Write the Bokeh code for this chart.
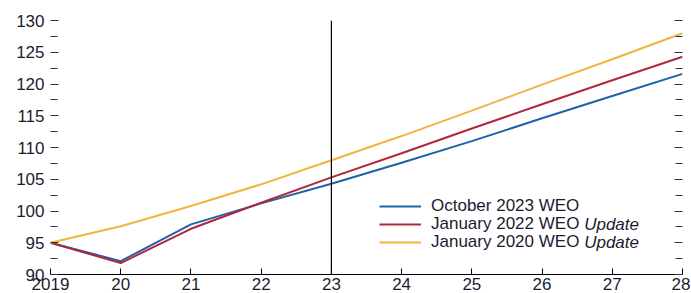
from bokeh.plotting import figure
from bokeh.models import (FixedTicker, Span, Legend, LegendItem, LinearAxis, Label)
from bokeh.embed import file_html
from bokeh.resources import INLINE

years = [2019, 2020, 2021, 2022, 2023, 2024, 2025, 2026, 2027, 2028]
tick_labels = ["2019", "20", "21", "22", "23", "24", "25", "26", "27", "28"]
oct2023 = [95.0, 92.1, 97.9, 101.2, 104.3, 107.6, 111.0, 114.6, 118.1, 121.6]
jan2022 = [95.0, 91.8, 97.2, 101.3, 105.3, 109.1, 113.0, 116.8, 120.6, 124.3]
jan2020 = [95.0, 97.6, 100.8, 104.2, 108.0, 111.8, 115.8, 119.9, 123.9, 128.0]
series_names = ["October 2023 WEO", "January 2022 WEO", "January 2020 WEO"]
series_italic = ["", "Update", "Update"]
colors = ["#1f62a8", "#b1283c", "#f2b440"]
y_ticks = [90, 95, 100, 105, 110, 115, 120, 125, 130]
y_minor = [92.5, 97.5, 102.5, 107.5, 112.5, 117.5, 122.5, 127.5]

FONT = "Liberation Sans"
TXT = "#1c1c30"

p = figure(width=690, height=292, output_backend="svg", toolbar_location=None,
           x_range=(2019, 2028), y_range=(90, 130),
           min_border_left=50, min_border_right=8, min_border_top=20, min_border_bottom=0)
p.outline_line_color = None
p.grid.grid_line_color = None

renderers = []
for ys, c in zip([oct2023, jan2022, jan2020], colors):
    r = p.line(years, ys, line_color=c, line_width=2)
    renderers.append(r)

p.add_layout(Span(location=2023, dimension="height", line_color="black", line_width=1.2))

# x axis
xa = p.xaxis[0]
xa.ticker = FixedTicker(ticks=years)
xa.major_label_overrides = {y: l for y, l in zip(years, tick_labels)}
xa.major_tick_in = 6
xa.major_tick_out = 0
xa.minor_tick_line_color = None
xa.axis_line_color = "black"
xa.axis_line_width = 1.2
xa.major_tick_line_color = "black"
xa.major_label_standoff = 3
xa.major_label_text_font = FONT
xa.major_label_text_font_size = "17px"
xa.major_label_text_color = TXT

# y axis left
ya = p.yaxis[0]
ya.ticker = FixedTicker(ticks=y_ticks, minor_ticks=y_minor)
ya.axis_line_color = None
ya.major_tick_in = 8
ya.major_tick_out = 0
ya.minor_tick_in = 7
ya.minor_tick_out = 0
ya.major_tick_line_color = "#333333"
ya.minor_tick_line_color = "#333333"
ya.major_label_standoff = 6
ya.major_label_text_font = FONT
ya.major_label_text_font_size = "17px"
ya.major_label_text_color = TXT

# right axis (ticks only)
ra = LinearAxis(ticker=FixedTicker(ticks=y_ticks, minor_ticks=y_minor))
ra.axis_line_color = None
ra.major_tick_in = 8
ra.major_tick_out = 0
ra.minor_tick_in = 7
ra.minor_tick_out = 0
ra.major_tick_line_color = "#333333"
ra.minor_tick_line_color = "#333333"
ra.major_label_text_color = None
ra.major_label_text_font_size = "1px"
ra.major_label_standoff = 0
p.add_layout(ra, "right")

legend_offsets = [58, 40, 22]
for n, r, off in zip(series_names, renderers, legend_offsets):
    lg = Legend(items=[LegendItem(label=n, renderers=[r])],
                location=(329, off), orientation="vertical",
                glyph_width=42, glyph_height=18, label_height=18, spacing=0,
                label_standoff=10, padding=0, margin=0,
                border_line_color=None, background_fill_alpha=0,
                label_text_font=FONT, label_text_font_size="17px", label_text_color=TXT)
    p.add_layout(lg)

row_y = [100.8, 97.94, 95.08]
for it, yy in zip(series_italic, row_y):
    if it:
        p.add_layout(Label(x=2026.6, y=yy, text=it, text_font=FONT, text_font_size="17px",
                           text_font_style="italic", text_color=TXT, text_baseline="middle"))

open("out.html", "w").write(file_html(p, INLINE))
